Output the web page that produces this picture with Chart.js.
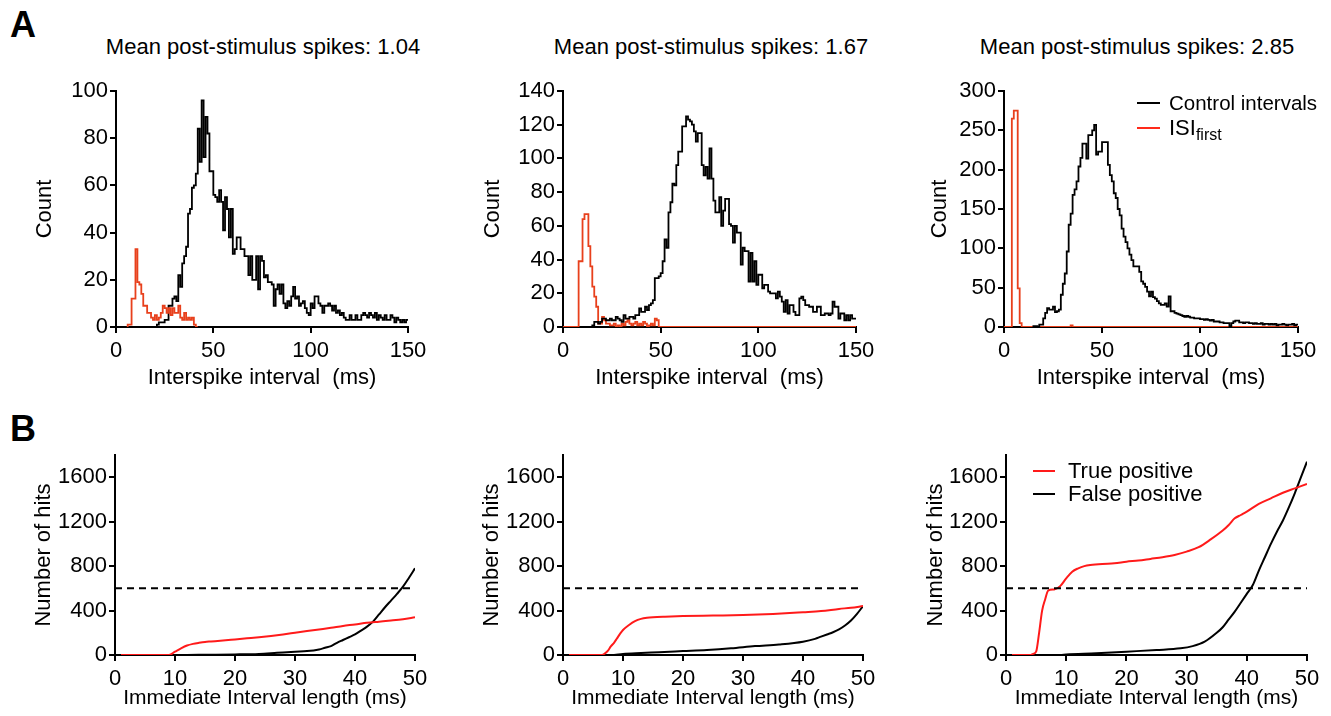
<!DOCTYPE html>
<html>
<head>
<meta charset="utf-8">
<script src="https://cdn.jsdelivr.net/npm/chart.js@4.4.1/dist/chart.umd.min.js"></script>
<style>
  body { margin: 0; background: #fff; width: 1331px; height: 716px; position: relative; overflow: hidden;
         font-family: "Liberation Sans", Arial, sans-serif; color: #000; }
  canvas { position: absolute; }
  .txt { position: absolute; white-space: nowrap; font-size: 22px; line-height: 26px; }
  .ttl { text-align: center; width: 420px; }
  .letter { position: absolute; font-weight: bold; font-size: 36px; line-height: 36px; }
  .lg { position: absolute; height: 2px; }
  sub { font-size: 16px; vertical-align: -5px; line-height: 0; }
</style>
</head>
<body>
<div class="letter" style="left:10px;top:7px">A</div>
<div class="letter" style="left:10px;top:411px">B</div>

<div class="txt ttl" style="left:53px;top:34px">Mean post-stimulus spikes: 1.04</div>
<div class="txt ttl" style="left:501px;top:34px">Mean post-stimulus spikes: 1.67</div>
<div class="txt ttl" style="left:927px;top:34px">Mean post-stimulus spikes: 2.85</div>

<canvas id="a1" width="401" height="331" style="left:32px;top:60px"></canvas>
<canvas id="a2" width="401" height="331" style="left:480px;top:60px"></canvas>
<canvas id="a3" width="396" height="331" style="left:927px;top:60px"></canvas>
<canvas id="b1" width="409" height="281" style="left:31px;top:430px"></canvas>
<canvas id="b2" width="409" height="281" style="left:479px;top:430px"></canvas>
<canvas id="b3" width="404" height="281" style="left:923px;top:430px"></canvas>

<div class="lg" style="left:1137px;top:102px;width:23px;background:#000"></div>
<div class="txt" style="left:1169px;top:90px;font-size:20.5px">Control intervals</div>
<div class="lg" style="left:1137px;top:127px;width:23px;background:#ff2a1a"></div>
<div class="txt" style="left:1169px;top:115px">ISI<sub>first</sub></div>

<div class="lg" style="left:1033px;top:470px;width:22px;background:#ff1a1a"></div>
<div class="txt" style="left:1068px;top:458px">True positive</div>
<div class="lg" style="left:1033px;top:493px;width:22px;background:#000"></div>
<div class="txt" style="left:1068px;top:481px">False positive</div>

<script>
// ---- A: interspike interval histograms (1 ms bins, counts) ----
const binWidth = 1;
const histXTicks = [0, 50, 100, 150];

const a1ControlStart = 21;
const a1Control = [
  1, 2, 2, 2, 3, 3, 9, 9, 12, 13,
  11, 22, 17, 27, 30, 34, 48, 50, 59, 60,
  65, 84, 70, 96, 72, 89, 82, 66, 66, 56,
  55, 53, 58, 53, 41, 55, 50, 38, 50, 31,
  33, 38, 38, 33, 33, 30, 30, 22, 30, 20,
  20, 30, 16, 30, 28, 21, 22, 19, 19, 18,
  9, 16, 18, 14, 18, 10, 8, 11, 9, 13,
  17, 12, 13, 9, 10, 11, 8, 6, 5, 10,
  8, 13, 13, 10, 9, 6, 9, 9, 10, 9,
  7, 9, 6, 7, 5, 6, 4, 3, 3, 5,
  3, 3, 5, 3, 3, 5, 6, 5, 4, 6,
  5, 4, 6, 3, 5, 4, 3, 5, 3, 3,
  5, 4, 2, 4, 3, 2, 3, 2, 3
];
const a1IsiStart = 6;
const a1Isi = [
  1, 1, 12, 12, 33, 19, 18, 14, 9, 9,
  6, 6, 4, 3, 5, 3, 4, 6, 9, 8,
  6, 8, 5, 8, 6, 6, 9, 4, 3, 6,
  3, 4, 3, 4, 1, 0
];
const a1YTicks = [0, 20, 40, 60, 80, 100];

const a2ControlStart = 15;
const a2Control = [
  1, 3, 3, 2, 3,
  5, 5, 4, 4, 5, 4, 4, 6, 5, 4,
  3, 7, 5, 5, 6, 6, 5, 7, 7, 11,
  9, 9, 12, 10, 13, 14, 16, 29, 29, 30,
  32, 39, 52, 47, 68, 74, 85, 84, 96, 104,
  104, 119, 119, 125, 123, 122, 120, 116, 110, 115,
  115, 96, 90, 95, 88, 106, 88, 75, 68, 68,
  77, 60, 69, 76, 76, 61, 60, 50, 60, 56,
  56, 37, 47, 45, 45, 27, 44, 27, 39, 25,
  31, 31, 23, 25, 25, 21, 20, 20, 20, 17,
  21, 18, 15, 9, 16, 8, 13, 13, 9, 7,
  7, 17, 18, 16, 13, 13, 12, 12, 9, 9,
  12, 12, 7, 7, 8, 8, 7, 8, 15, 12,
  12, 5, 8, 8, 4, 7, 4, 7, 5, 5
];
const a2IsiStart = 0;
const a2IsiEnd = 150;
const a2Isi = [
  0, 0, 0, 0, 0, 0, 0, 0, 39, 39,
  64, 67, 67, 48, 36, 24, 18, 12, 2, 2,
  6, 4, 2, 2, 1, 1, 2, 0, 1, 0,
  2, 1, 3, 4, 2, 1, 2, 3, 1, 2,
  1, 3, 2, 0, 1, 2, 1, 5, 4, 0
];
const a2YTicks = [0, 20, 40, 60, 80, 100, 120, 140];

const a3ControlStart = 15;
const a3Control = [
  1, 1, 0, 3, 3,
  11, 18, 24, 22, 22, 26, 19, 20, 22, 41,
  55, 68, 96, 130, 144, 168, 175, 185, 204, 215,
  233, 233, 214, 244, 244, 250, 257, 219, 223, 223,
  235, 235, 235, 206, 193, 185, 170, 164, 150, 142,
  125, 115, 108, 100, 92, 85, 77, 77, 77, 70,
  58, 55, 51, 45, 39, 45, 38, 36, 33, 30,
  28, 28, 30, 26, 39, 20, 20, 18, 17, 16,
  15, 14, 13, 14, 13, 12, 12, 11, 11, 11,
  10, 10, 9, 10, 9, 8, 9, 7, 7, 7,
  6, 6, 5, 5, 5, 1, 5, 7, 8, 8,
  6, 6, 5, 6, 6, 5, 5, 4, 5, 4,
  4, 5, 3, 4, 4, 3, 4, 3, 4, 2,
  3, 3, 4, 3, 2, 3, 3, 4, 2, 3
];
const a3IsiStart = 0;
const a3IsiEnd = 150;
const a3Isi = [
  0, 0, 0, 0, 265, 275, 275, 49, 5, 0,
  0, 0, 0, 0, 0, 0, 0, 0, 0, 0,
  0, 0, 0, 0, 0, 0, 0, 0, 0, 0,
  0, 0, 0, 0, 2, 0
];
const a3YTicks = [0, 50, 100, 150, 200, 250, 300];

// ---- B: cumulative hits vs immediate interval length ----
const hitXTicks = [0, 10, 20, 30, 40, 50];
const hitYTicks = [0, 400, 800, 1200, 1600];
const hitThreshold = 600;

const b1TrueX = [1, 9, 10, 11, 12, 13, 14, 15, 16, 18, 20, 22, 24, 26, 28, 30, 32, 34, 36, 38, 40, 42, 44, 46, 48, 50];
const b1TrueY = [0, 0, 30, 60, 85, 100, 110, 118, 122, 130, 140, 150, 160, 172, 185, 200, 215, 230, 245, 262, 275, 290, 300, 310, 322, 340];
const b1FalseX = [1, 12, 15, 20, 24, 27, 30, 32, 34, 35, 36, 37, 38, 39, 40, 41, 42, 43, 44, 45, 46, 47, 48, 49, 50];
const b1FalseY = [0, 0, 2, 5, 10, 20, 30, 35, 50, 65, 80, 110, 135, 160, 185, 220, 255, 300, 365, 430, 490, 550, 615, 695, 780];

const b2TrueX = [1, 6.5, 7, 7.5, 8, 8.5, 9, 9.5, 10, 11, 12, 13, 14, 15, 17, 20, 25, 30, 35, 40, 43, 46, 48, 50];
const b2TrueY = [0, 0, 15, 40, 80, 110, 150, 190, 225, 270, 305, 325, 335, 340, 345, 350, 355, 360, 370, 385, 395, 415, 425, 440];
const b2FalseX = [1, 8, 10, 13, 16, 20, 24, 28, 32, 36, 40, 42, 43, 44, 45, 46, 47, 48, 49, 50];
const b2FalseY = [0, 0, 10, 18, 25, 35, 45, 60, 80, 95, 120, 145, 165, 185, 205, 230, 265, 310, 370, 440];

const b3TrueX = [1, 4, 4.5, 5, 5.5, 6, 6.5, 7, 8, 9, 10, 11, 12, 13, 14, 16, 18, 20, 22, 24, 26, 28, 30, 32, 34, 36, 37, 38, 39, 40, 42, 44, 46, 48, 50];
const b3TrueY = [0, 0, 10, 30, 200, 400, 500, 580, 590, 620, 690, 750, 780, 800, 810, 820, 825, 840, 850, 865, 880, 900, 930, 970, 1040, 1120, 1170, 1230, 1260, 1290, 1360, 1410, 1460, 1500, 1540];
const b3FalseX = [1, 9, 10, 15, 20, 25, 29, 31, 33, 35, 36, 37, 38, 39, 40, 41, 42, 43, 44, 45, 46, 47, 48, 49, 50];
const b3FalseY = [0, 0, 5, 15, 30, 45, 60, 80, 120, 200, 250, 320, 390, 470, 550, 630, 760, 880, 1000, 1110, 1210, 1330, 1460, 1600, 1740];

const FONT = { family: '"Liberation Sans", Arial, sans-serif', size: 22 };
const SMALL_FONT = { family: '"Liberation Sans", Arial, sans-serif', size: 21 };
const HIST_RED = '#e8401c';
const LINE_RED = '#ff1a1a';

// histogram outline points at bin left edges, held until the next edge
function histPoints(start, counts, end) {
  const pts = [{ x: start, y: 0 }];
  counts.forEach((c, i) => pts.push({ x: start + i * binWidth, y: c }));
  const last = end !== undefined ? end : start + counts.length * binWidth;
  pts.push({ x: last, y: counts[counts.length - 1] });
  return pts;
}

function xyPoints(xs, ys) {
  return xs.map((x, i) => ({ x: x, y: ys[i] }));
}

function axis(min, max, ticks, title, box, tickPad, titleFont) {
  return {
    type: 'linear',
    min: min,
    max: max,
    afterBuildTicks: s => { s.ticks = ticks.map(v => ({ value: v })); },
    afterFit: s => { if (s.isHorizontal()) s.height = box; else s.width = box; },
    grid: { drawOnChartArea: false, drawTicks: true, tickLength: 6, color: '#000', lineWidth: 2 },
    border: { display: true, color: '#000', width: 2 },
    ticks: { color: '#000', font: FONT, padding: tickPad, maxRotation: 0, autoSkip: false,
             callback: v => String(v) },
    title: { display: true, text: title, color: '#000', font: titleFont || FONT, padding: 0 }
  };
}

function makeChart(id, datasets, xs, ys, pad) {
  new Chart(document.getElementById(id), {
    type: 'line',
    data: { datasets: datasets },
    options: {
      responsive: false,
      animation: false,
      layout: { padding: pad },
      plugins: { legend: { display: false }, tooltip: { enabled: false } },
      elements: { point: { radius: 0 } },
      scales: { x: xs, y: ys }
    }
  });
}

function histSet(pts, color) {
  return { data: pts, borderColor: color, borderWidth: 1.8, stepped: 'before', fill: false };
}
function curveSet(pts, color) {
  return { data: pts, borderColor: color, borderWidth: 2, cubicInterpolationMode: 'monotone', fill: false };
}
function thresholdSet() {
  return { data: [{ x: 0, y: hitThreshold }, { x: 50, y: hitThreshold }], borderColor: '#000', borderWidth: 2, borderDash: [7, 5], fill: false };
}

const histPad = { top: 31, right: 25, left: 0, bottom: 0 };
const xHist = () => axis(0, 150, histXTicks, 'Interspike interval  (ms)', 64, 5);

makeChart('a1', [
  histSet(histPoints(a1IsiStart, a1Isi), HIST_RED),
  histSet(histPoints(a1ControlStart, a1Control), '#000')
], xHist(), axis(0, 100, a1YTicks, 'Count', 84, 2), histPad);

makeChart('a2', [
  histSet(histPoints(a2ControlStart, a2Control), '#000'),
  histSet(histPoints(a2IsiStart, a2Isi, a2IsiEnd), HIST_RED)
], xHist(), axis(0, 140, a2YTicks, 'Count', 83, 2), histPad);

makeChart('a3', [
  histSet(histPoints(a3ControlStart, a3Control), '#000'),
  histSet(histPoints(a3IsiStart, a3Isi, a3IsiEnd), HIST_RED)
], xHist(), axis(0, 300, a3YTicks, 'Count', 77, 2), histPad);

const hitPad = { top: 25, right: 25, left: 0, bottom: 0 };
const xHit = () => axis(0, 50, hitXTicks, 'Immediate Interval length (ms)', 56, 5, SMALL_FONT);

makeChart('b1', [
  thresholdSet(),
  curveSet(xyPoints(b1TrueX, b1TrueY), LINE_RED),
  curveSet(xyPoints(b1FalseX, b1FalseY), '#000')
], xHit(), axis(0, 1800, hitYTicks, 'Number of hits', 84, 2), hitPad);

makeChart('b2', [
  thresholdSet(),
  curveSet(xyPoints(b2TrueX, b2TrueY), LINE_RED),
  curveSet(xyPoints(b2FalseX, b2FalseY), '#000')
], xHit(), axis(0, 1800, hitYTicks, 'Number of hits', 84, 2), hitPad);

makeChart('b3', [
  thresholdSet(),
  curveSet(xyPoints(b3TrueX, b3TrueY), LINE_RED),
  curveSet(xyPoints(b3FalseX, b3FalseY), '#000')
], xHit(), axis(0, 1800, hitYTicks, 'Number of hits', 83, 2), { top: 25, right: 20, left: 0, bottom: 0 });
</script>
</body>
</html>
